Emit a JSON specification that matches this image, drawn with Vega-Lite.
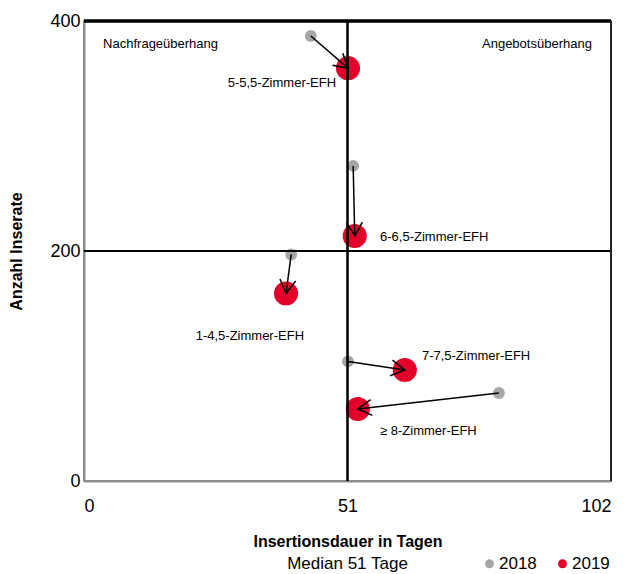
{
  "$schema": "https://vega.github.io/schema/vega-lite/v6.json",
  "autosize": "none",
  "width": 527,
  "height": 460,
  "padding": {"left": 84, "top": 21, "right": 18, "bottom": 93},
  "background": "white",
  "config": {
    "view": {"stroke": "#8c8c8c", "strokeWidth": 2},
    "font": "Liberation Sans",
    "axis": {"labelFont": "Liberation Sans", "titleFont": "Liberation Sans", "grid": false, "ticks": false, "domainColor": "#8c8c8c", "domainWidth": 2}
  },
  "title": {"text": "Median 51 Tage", "orient": "bottom", "anchor": "middle", "frame": "group", "baseline": "middle", "font": "Liberation Sans", "fontSize": 17, "fontWeight": "normal", "offset": -8, "color": "#000"},
  "data": {"values": [
    {"cat": "5-5,5-Zimmer-EFH", "x2018": 43.9, "y2018": 387, "x2019": 51.1, "y2019": 359, "lx": 38.3, "ly": 346, "al": "center"},
    {"cat": "6-6,5-Zimmer-EFH", "x2018": 52.1, "y2018": 274, "x2019": 52.4, "y2019": 213, "lx": 57.3, "ly": 212, "al": "left"},
    {"cat": "1-4,5-Zimmer-EFH", "x2018": 40.1, "y2018": 197, "x2019": 39.1, "y2019": 163, "lx": 32.1, "ly": 126, "al": "center"},
    {"cat": "7-7,5-Zimmer-EFH", "x2018": 51.1, "y2018": 104, "x2019": 62.1, "y2019": 96.5, "lx": 65.4, "ly": 108.7, "al": "left"},
    {"cat": "≥ 8-Zimmer-EFH", "x2018": 80.3, "y2018": 76.5, "x2019": 53.0, "y2019": 62.6, "lx": 57.3, "ly": 43.5, "al": "left"}
  ]},
  "layer": [
    {
      "mark": {"type": "circle", "opacity": 1},
      "encoding": {
        "x": {"field": "x2018", "type": "quantitative", "scale": {"domain": [0, 102], "nice": false}, "axis": {"values": [0, 51, 102], "title": "Insertionsdauer in Tagen", "labelFontSize": 18, "labelPadding": 16, "labelColor": "#000", "titleFontSize": 16, "titleFontWeight": "bold", "titlePadding": 18, "titleColor": "#000"}},
        "y": {"field": "y2018", "type": "quantitative", "scale": {"domain": [0, 400], "nice": false}, "axis": {"values": [0, 200, 400], "title": "Anzahl Inserate", "labelFontSize": 18, "labelPadding": 4, "labelColor": "#000", "titleFontSize": 16, "titleFontWeight": "bold", "titlePadding": 25, "titleColor": "#000"}},
        "color": {"datum": "2018", "type": "nominal", "scale": {"domain": ["2018", "2019"], "range": ["#a6a6a6", "#e4002b"]}, "legend": {"title": null, "orient": "none", "direction": "horizontal", "legendX": 397, "legendY": 534, "symbolType": "circle", "symbolSize": 80, "symbolOpacity": 1, "labelFont": "Liberation Sans", "labelFontSize": 17, "labelColor": "#000", "columnPadding": 17, "labelOffset": 1}},
        "size": {"value": 140}
      }
    },
    {
      "mark": {"type": "circle", "opacity": 1},
      "encoding": {
        "x": {"field": "x2019", "type": "quantitative"},
        "y": {"field": "y2019", "type": "quantitative"},
        "color": {"datum": "2019", "type": "nominal"},
        "size": {"value": 580}
      }
    },
    {"mark": {"type": "rule", "color": "#000", "strokeWidth": 1.5}, "encoding": {"y": {"datum": 200}}},
    {"mark": {"type": "rule", "color": "#000", "strokeWidth": 1.5}, "encoding": {"x": {"datum": 51}}},
    {"mark": {"type": "rule", "color": "#000", "strokeWidth": 2.5}, "encoding": {"y": {"datum": 400}}},
    {"mark": {"type": "rule", "color": "#222", "strokeWidth": 2}, "encoding": {"x": {"datum": 102}}},
    {
      "mark": {"type": "rule", "color": "#000", "strokeWidth": 1.5},
      "encoding": {
        "x": {"field": "x2018", "type": "quantitative"},
        "y": {"field": "y2018", "type": "quantitative"},
        "x2": {"field": "x2019"},
        "y2": {"field": "y2019"}
      }
    },
    {
      "transform": [{"calculate": "atan2((datum.x2019 - datum.x2018) * 527 / 102, (datum.y2019 - datum.y2018) * 460 / 400) * 180 / PI", "as": "ang"}],
      "mark": {"type": "point", "shape": "M-0.5,0.866L0,0L0.5,0.866", "filled": false, "stroke": "#000", "strokeWidth": 1.5, "opacity": 1, "size": 1000},
      "encoding": {
        "x": {"field": "x2019", "type": "quantitative"},
        "y": {"field": "y2019", "type": "quantitative"},
        "angle": {"field": "ang", "type": "quantitative", "scale": null}
      }
    },
    {
      "transform": [{"filter": "datum.al === 'center'"}],
      "mark": {"type": "text", "fontSize": 13, "font": "Liberation Sans", "color": "#000", "baseline": "middle", "align": "center"},
      "encoding": {
        "x": {"field": "lx", "type": "quantitative"},
        "y": {"field": "ly", "type": "quantitative"},
        "text": {"field": "cat"}
      }
    },
    {
      "transform": [{"filter": "datum.al === 'left'"}],
      "mark": {"type": "text", "fontSize": 13, "font": "Liberation Sans", "color": "#000", "baseline": "middle", "align": "left"},
      "encoding": {
        "x": {"field": "lx", "type": "quantitative"},
        "y": {"field": "ly", "type": "quantitative"},
        "text": {"field": "cat"}
      }
    },
    {
      "data": {"values": [{"t": "Nachfrageüberhang", "qx": 3.7, "qy": 380}]},
      "mark": {"type": "text", "fontSize": 13, "font": "Liberation Sans", "color": "#000", "baseline": "middle", "align": "left"},
      "encoding": {
        "x": {"field": "qx", "type": "quantitative"},
        "y": {"field": "qy", "type": "quantitative"},
        "text": {"field": "t"}
      }
    },
    {
      "data": {"values": [{"t": "Angebotsüberhang", "qx": 98.3, "qy": 380}]},
      "mark": {"type": "text", "fontSize": 13, "font": "Liberation Sans", "color": "#000", "baseline": "middle", "align": "right"},
      "encoding": {
        "x": {"field": "qx", "type": "quantitative"},
        "y": {"field": "qy", "type": "quantitative"},
        "text": {"field": "t"}
      }
    }
  ]
}
